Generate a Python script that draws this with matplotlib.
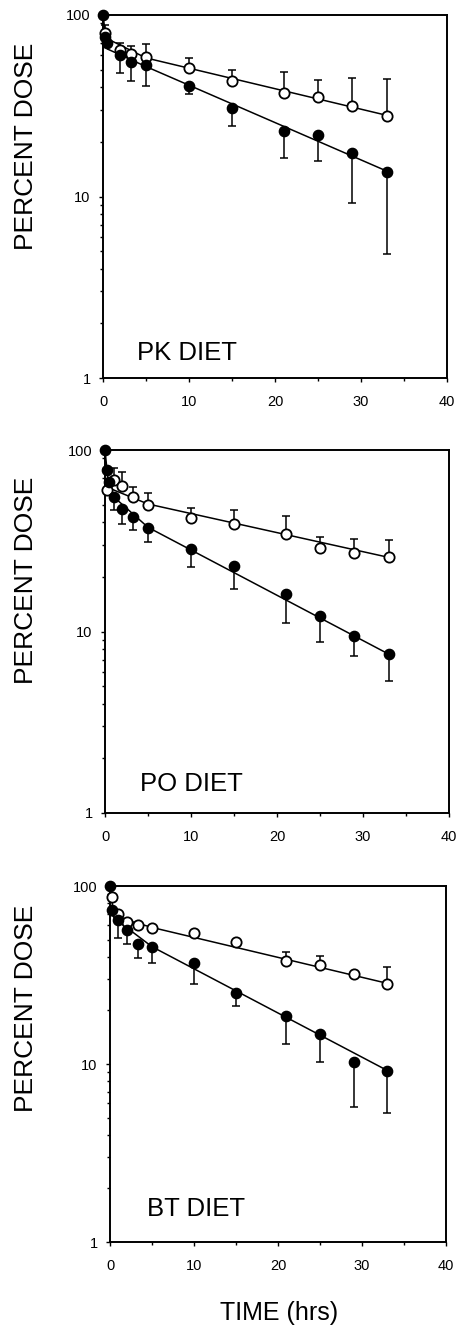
import matplotlib
matplotlib.use("Agg")
import matplotlib.pyplot as plt
from matplotlib.ticker import FixedLocator, LogLocator, NullFormatter, FixedFormatter

plt.rcParams['font.family'] = ['Liberation Sans', 'DejaVu Sans']

# ---------------- data ----------------
panel_names = ["PK DIET", "PO DIET", "BT DIET"]

# PK diet
pk_open_t = [0.25, 2, 3.3, 5, 10, 15, 21, 25, 29, 33]
pk_open_v = [80, 64, 61, 59, 51, 43.5, 37.3, 35.5, 31.5, 27.8]
pk_open_hi = [88, 70, 67.5, 69, 57.7, 49.8, 48.3, 43.9, 45.2, 44.2]
pk_fill_t = [0, 0.25, 0.5, 2, 3.3, 5, 10, 15, 21, 25, 29, 33]
pk_fill_v = [100, 76, 70, 60, 55, 53, 40.6, 30.8, 23, 21.8, 17.3, 13.7]
pk_fill_lo = [100, 76, 70, 48, 43.5, 40.6, 36.6, 24.5, 16.2, 15.7, 9.2, 4.8]
pk_open_fit_t = [0.25, 5, 33]
pk_open_fit_v = [75, 58, 28]
pk_fill_fit_t = [0, 0.5, 5, 33]
pk_fill_fit_v = [100, 65, 52, 13.8]

# PO diet
po_open_t = [0.25, 1, 2, 3.3, 5, 10, 15, 21, 25, 29, 33]
po_open_v = [60, 68.4, 63.4, 55.3, 49.8, 42, 39.1, 34.3, 29, 27, 25.6]
po_open_hi = [60, 79.3, 76, 62.3, 57.7, 47.7, 46.7, 43.3, 33, 32.2, 31.9]
po_fill_t = [0, 0.25, 0.5, 1, 2, 3.3, 5, 10, 15, 21, 25, 29, 33]
po_fill_v = [100, 77.6, 66.9, 55.3, 47.3, 42.6, 37.3, 28.4, 23, 16.1, 12.2, 9.44, 7.5]
po_fill_lo = [100, 77.6, 66.9, 46.7, 39.1, 36.2, 31, 22.7, 17.1, 11.2, 8.8, 7.3, 5.33]
po_open_fit_t = [0, 5, 33]
po_open_fit_v = [63, 50.4, 25.6]
po_fill_fit_t = [0, 0.5, 5, 33]
po_fill_fit_v = [100, 58, 37.5, 7.5]

# BT diet
bt_open_t = [0.25, 1, 2, 3.3, 5, 10, 15, 21, 25, 29, 33]
bt_open_v = [87, 70, 63, 60.4, 57.8, 54.7, 48.6, 37.9, 36, 31.9, 28.1]
bt_open_hi = [87, 70, 63, 60.4, 57.8, 54.7, 48.6, 42.8, 40.4, 31.9, 35.2]
bt_fill_t = [0, 0.25, 1, 2, 3.3, 5, 10, 15, 21, 25, 29, 33]
bt_fill_v = [100, 73.3, 64.4, 56.6, 47.2, 45.6, 36.8, 25.1, 18.5, 14.7, 10.2, 9.14]
bt_fill_lo = [100, 73.3, 50.8, 47.2, 39.3, 36.8, 28.1, 21.2, 12.9, 10.2, 5.75, 5.3]
bt_open_fit_t = [0.25, 5, 33]
bt_open_fit_v = [68, 58.5, 28.4]
bt_fill_fit_t = [0, 0.5, 5, 33]
bt_fill_fit_v = [100, 66, 45.6, 9.2]

x_ticks = [0, 10, 20, 30, 40]
x_minor = [5, 15, 25, 35]
y_ticks = [1, 10, 100]
y_ticklabels = ["1", "10", "100"]

panels = [
    (pk_open_t, pk_open_v, pk_open_hi, pk_fill_t, pk_fill_v, pk_fill_lo,
     pk_open_fit_t, pk_open_fit_v, pk_fill_fit_t, pk_fill_fit_v),
    (po_open_t, po_open_v, po_open_hi, po_fill_t, po_fill_v, po_fill_lo,
     po_open_fit_t, po_open_fit_v, po_fill_fit_t, po_fill_fit_v),
    (bt_open_t, bt_open_v, bt_open_hi, bt_fill_t, bt_fill_v, bt_fill_lo,
     bt_open_fit_t, bt_open_fit_v, bt_fill_fit_t, bt_fill_fit_v),
]

# ---------------- layout ----------------
W, H = 461, 1332
fig = plt.figure(figsize=(W / 100, H / 100), dpi=100)
fig.patch.set_facecolor('white')

# pixel boxes (left, top, right, bottom)
boxes = [(103, 15, 447, 378), (105, 450, 449, 813), (110, 886, 446, 1242)]
label_pos = [(0.099, 0.05), (0.102, 0.06), (0.11, 0.073)]
ylabel_y = [146, 580, 1008]

for i, (box, data) in enumerate(zip(boxes, panels)):
    l, t, r, b = box
    ax = fig.add_axes([l / W, 1 - b / H, (r - l) / W, (b - t) / H])
    (ot, ov, ohi, ft, fv, flo, oft, ofv, fft, ffv) = data
    ax.set_yscale('log')
    ax.set_xlim(0, 40)
    ax.set_ylim(1, 100)

    # fit lines
    ax.plot(oft, ofv, color='black', lw=1.1, zorder=2, clip_on=False)
    ax.plot(fft, ffv, color='black', lw=1.1, zorder=2, clip_on=False)

    # error bars (one-sided)
    o_err = [[0] * len(ov), [h - v for h, v in zip(ohi, ov)]]
    f_err = [[v - lo for v, lo in zip(fv, flo)], [0] * len(fv)]
    ax.errorbar(ot, ov, yerr=o_err, fmt='none', ecolor='black', elinewidth=1.1,
                capsize=2.8, capthick=1.1, zorder=3, clip_on=False)
    ax.errorbar(ft, fv, yerr=f_err, fmt='none', ecolor='black', elinewidth=1.1,
                capsize=2.8, capthick=1.1, zorder=3, clip_on=False)

    # markers
    ax.plot(ot, ov, linestyle='none', marker='o', markersize=7.4,
            markerfacecolor='white', markeredgecolor='black', markeredgewidth=1.3,
            zorder=5, clip_on=False)
    ax.plot(ft, fv, linestyle='none', marker='o', markersize=7.4,
            markerfacecolor='black', markeredgecolor='black',
            zorder=6, clip_on=False)

    # ticks
    ax.xaxis.set_major_locator(FixedLocator(x_ticks))
    ax.xaxis.set_minor_locator(FixedLocator(x_minor))
    ax.yaxis.set_major_locator(FixedLocator(y_ticks))
    ax.yaxis.set_major_formatter(FixedFormatter(y_ticklabels))
    ax.yaxis.set_minor_locator(LogLocator(base=10, subs=range(2, 10)))
    ax.yaxis.set_minor_formatter(NullFormatter())
    ax.tick_params(axis='both', which='major', direction='out', length=3,
                   width=1.0, labelsize=10.5)
    ax.tick_params(axis='both', which='minor', direction='out', length=2,
                   width=1.0)
    ax.tick_params(axis='x', which='major', pad=9)
    ax.tick_params(axis='y', which='major', pad=6)
    for sp in ax.spines.values():
        sp.set_linewidth(1.4)
        sp.set_color('black')

    ax.text(label_pos[i][0], label_pos[i][1], panel_names[i], transform=ax.transAxes,
            fontsize=18.5, va='baseline', ha='left')

    fig.text(26 / W, 1 - ylabel_y[i] / H, "PERCENT DOSE", rotation=90,
             fontsize=19, ha='center', va='center')

fig.text(279 / W, 1 - 1313 / H, "TIME (hrs)", fontsize=18, ha='center', va='center')

fig.savefig("out.png", dpi=100, facecolor='white')
